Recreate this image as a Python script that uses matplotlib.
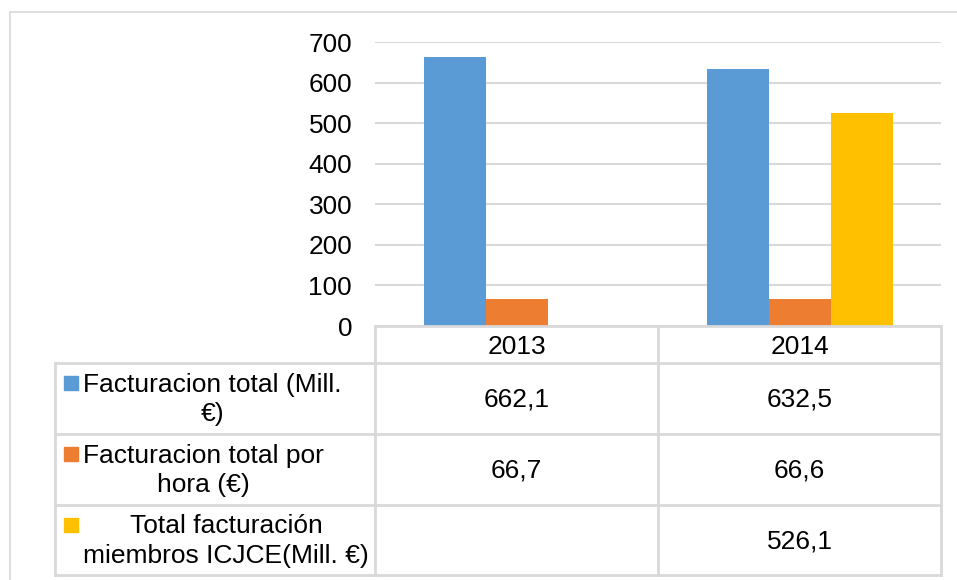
import numpy as np
import matplotlib.pyplot as plt

plt.rcParams['font.family'] = ['Liberation Sans', 'DejaVu Sans']

years = ['2013', '2014']
series_names = ['Facturacion total (Mill.\n€)',
                'Facturacion total por\nhora (€)',
                'Total facturación\nmiembros ICJCE(Mill. €)']
facturacion_total = [662.1, 632.5]
facturacion_hora = [66.7, 66.6]
total_icjce = [np.nan, 526.1]
series_values = [facturacion_total, facturacion_hora, total_icjce]
colors = ['#5B9BD5', '#ED7D31', '#FFC000']
yticks = [0, 100, 200, 300, 400, 500, 600, 700]

W, H = 957, 580
fig = plt.figure(figsize=(W / 100, H / 100), dpi=100)

# plot area in pixel coords
px0, px1, py0, py1 = 375, 941, 42, 326
ax = fig.add_axes([px0 / W, 1 - py1 / H, (px1 - px0) / W, (py1 - py0) / H])
ax.set_facecolor('none')

x = np.arange(len(years))
bw = 62 / 283
for i, vals in enumerate(series_values):
    ax.bar(x + (i - 1) * bw, vals, width=bw, color=colors[i], zorder=3)

ax.set_xlim(-0.5, len(years) - 0.5)
ax.set_ylim(0, 700)
ax.set_yticks(yticks)
ax.set_xticks([])
ax.grid(axis='y', color='#d9d9d9', linewidth=1.5, zorder=0)
ax.tick_params(axis='y', length=0, pad=16.5, labelsize=18.9)
for s in ax.spines.values():
    s.set_visible(False)

# overlay for table and frame, in pixel coords
ov = fig.add_axes([0, 0, 1, 1])
ov.set_xlim(0, W)
ov.set_ylim(H, 0)
ov.axis('off')
ov.patch.set_visible(False)

gc = '#d9d9d9'
# outer chart border
ov.plot([10, 10], [12, H], color=gc, lw=1.2)
ov.plot([10, W], [12, 12], color=gc, lw=1.2)

# table grid
row_y = [326, 363, 434, 505, 575]
col_x = [55, 375, 658, 941]
ov.plot([375, 941], [326, 326], color=gc, lw=2)
for yy in row_y[1:]:
    ov.plot([55, 941], [yy, yy], color=gc, lw=2)
ov.plot([55, 55], [363, 575], color=gc, lw=2)
for xx in col_x[1:]:
    ov.plot([xx, xx], [326, 575], color=gc, lw=2)

fs = 19
for j, yr in enumerate(years):
    cx = (col_x[j + 1] + col_x[j + 2]) / 2
    ov.text(cx, (row_y[0] + row_y[1]) / 2 + 2, yr, ha='center', va='center', fontsize=fs)

for i, name in enumerate(series_names):
    y0, y1 = row_y[i + 1], row_y[i + 2]
    yc = (y0 + y1) / 2
    ov.text(83, yc + 1, name, ha='left', va='center', fontsize=fs,
            multialignment='center', linespacing=1.3)
    sq_y = yc - 15.5
    ov.add_patch(plt.Rectangle((64, sq_y - 7), 14, 14, color=colors[i]))
    for j, v in enumerate(series_values[i]):
        if np.isnan(v):
            continue
        cx = (col_x[j + 1] + col_x[j + 2]) / 2
        ov.text(cx, yc + 1, f'{v:.1f}'.replace('.', ','), ha='center', va='center', fontsize=fs)

fig.savefig('out.png', dpi=100)
